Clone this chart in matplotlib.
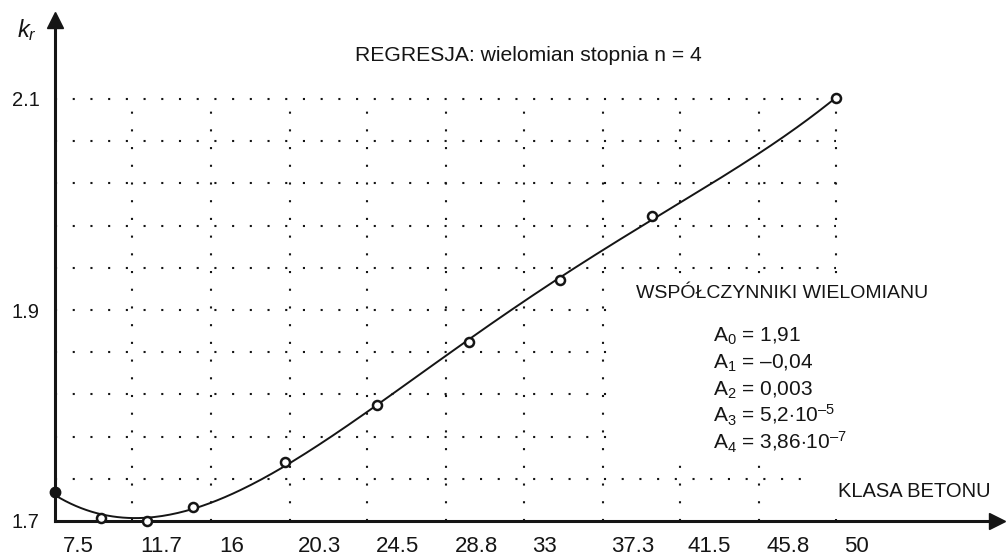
import numpy as np
import matplotlib
matplotlib.use("Agg")
import matplotlib.pyplot as plt
from matplotlib.patches import Rectangle
from matplotlib.transforms import ScaledTranslation

plt.rcParams['font.family'] = ['Liberation Sans', 'DejaVu Sans']
plt.rcParams['mathtext.fontset'] = 'custom'
plt.rcParams['mathtext.rm'] = 'Liberation Sans'
plt.rcParams['mathtext.it'] = 'Liberation Sans:italic'

# concrete class vs. coefficient k_r
klasa = [7.5, 10, 12.5, 15, 20, 25, 30, 35, 40, 50]
kr = [1.7275, 1.703, 1.700, 1.713, 1.756, 1.810, 1.870, 1.928, 1.989, 2.101]

x_ticks = [7.5, 11.7, 16, 20.3, 24.5, 28.8, 33, 37.3, 41.5, 45.8, 50]
x_tick_labels = ["7.5", "11.7", "16", "20.3", "24.5", "28.8", "33", "37.3", "41.5", "45.8", "50"]
y_grid = [1.74, 1.78, 1.82, 1.86, 1.90, 1.94, 1.98, 2.02, 2.06, 2.10]
y_ticks = [1.7, 1.9, 2.1]
y_tick_labels = ["1.7", "1.9", "2.1"]

coef_lines = [
    r"A$_0$ = 1,91",
    r"A$_1$ = –0,04",
    r"A$_2$ = 0,003",
    r"A$_3$ = 5,2$\cdot$10$^{–5}$",
    r"A$_4$ = 3,86$\cdot$10$^{–7}$",
]

INK = "#151515"
W, H = 1008, 556


def px(x, y):
    return x / W, 1 - y / H


fig = plt.figure(figsize=(W / 100, H / 100), dpi=100)
ax = fig.add_axes([55 / W, 35 / H, 942 / W, 501 / H])
ax.set_xlim(7.5, 7.5 + 942 / 18.38)
ax.set_ylim(1.7, 1.7 + 501 / 1055)

# dotted grid, limited to the data window
dot = dict(color=INK, lw=1.5, linestyle=(0, (1, 7.5)), zorder=1)
ax.hlines(y_grid, x_ticks[0], x_ticks[-1], **dot)
ax.vlines(x_ticks[1:], 1.7, 2.09, **dot)

# blank areas behind the annotations
ax.add_patch(Rectangle((37.6, 1.757), 30, 0.168, fc="white", ec="none", zorder=2))
ax.add_patch(Rectangle((48.3, 1.7015), 20, 0.052, fc="white", ec="none", zorder=2))

# fitted 4th degree polynomial
coef = np.polyfit(klasa, kr, 4)
xs = np.linspace(klasa[0], klasa[-1], 300)
ax.plot(xs, np.polyval(coef, xs), color=INK, lw=1.4, zorder=3)
ax.plot(klasa[1:], kr[1:], "o", ms=6.5, mfc="white", mec=INK, mew=1.8, zorder=7, clip_on=False)
ax.plot(klasa[0], kr[0], "o", ms=7.5, color=INK, zorder=7, clip_on=False)

# axes with arrow heads
for s in ["top", "right"]:
    ax.spines[s].set_visible(False)
for s in ["left", "bottom"]:
    ax.spines[s].set_linewidth(2.2)
    ax.spines[s].set_color(INK)
    ax.spines[s].set_zorder(5)
ax.plot(1, 0, ">", color=INK, ms=11, transform=ax.transAxes, clip_on=False, zorder=6)
ax.plot(0, 1, "^", color=INK, ms=11, transform=ax.transAxes, clip_on=False, zorder=6)

ax.set_xticks(x_ticks)
ax.set_xticklabels(x_tick_labels, fontsize=16, color=INK, ha="left")
ax.set_yticks(y_ticks)
ax.set_yticklabels(y_tick_labels, fontsize=14.5, color=INK)
ax.tick_params(axis="x", length=0, pad=11)
ax.tick_params(axis="y", length=0, pad=11)
shift = ScaledTranslation(0.08, 0, fig.dpi_scale_trans)
for lab in ax.get_xticklabels():
    lab.set_transform(lab.get_transform() + shift)

fig.text(*px(355, 61), "REGRESJA: wielomian stopnia n = 4", fontsize=15.2, color=INK, va="baseline")
fig.text(*px(17, 37), r"$k_r$", fontsize=17, color=INK, va="baseline")
fig.text(*px(636, 298), "WSPÓŁCZYNNIKI WIELOMIANU", fontsize=14, color=INK, va="baseline")
for i, line in enumerate(coef_lines):
    fig.text(*px(713, 342 + 26.8 * i), line, fontsize=15, color=INK, va="baseline")
fig.text(*px(838, 497), "KLASA BETONU", fontsize=14.5, color=INK, va="baseline")

fig.savefig("out.png", dpi=100, facecolor="white")
